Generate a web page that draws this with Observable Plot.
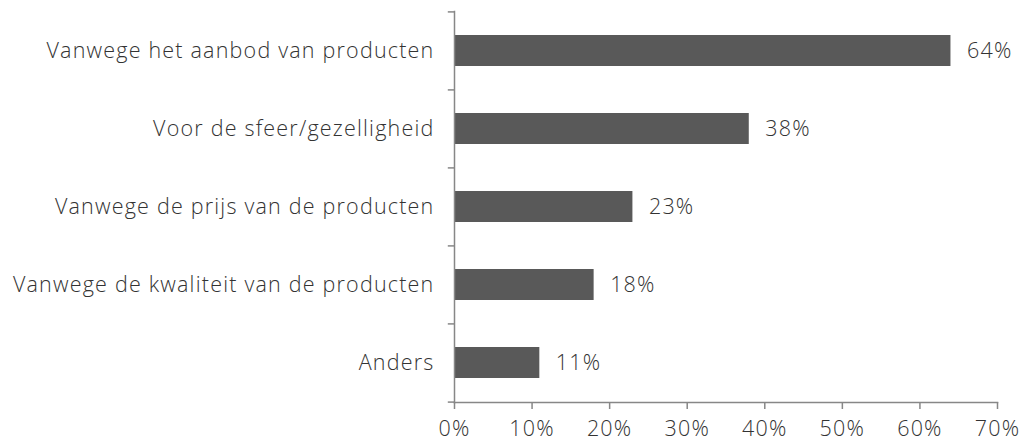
<!DOCTYPE html>
<html>
<head>
<meta charset="utf-8">
<script src="https://cdn.jsdelivr.net/npm/d3@7"></script>
<script src="https://cdn.jsdelivr.net/npm/@observablehq/plot@0.6"></script>
<style>
  html, body { margin: 0; padding: 0; background: #fff; }
</style>
</head>
<body>
<div id="chart"></div>
<script>
const categories = [
  "Vanwege het aanbod van producten",
  "Voor de sfeer/gezelligheid",
  "Vanwege de prijs van de producten",
  "Vanwege de kwaliteit van de producten",
  "Anders"
];
const values = [64, 38, 23, 18, 11];
const xTicks = [0, 10, 20, 30, 40, 50, 60, 70];

const data = categories.map((c, i) => ({cat: c, value: values[i]}));

const W = 1030, H = 441, mT = 11, mB = 39;
const pInner = 0.6, pOuter = 0.3;
const step = (H - mT - mB) / (categories.length - pInner + 2 * pOuter);
const axisColor = "#878787";
const textColor = "#333333";
const fs = 21.5;

const chart = Plot.plot({
  width: W,
  height: H,
  marginTop: mT,
  marginBottom: mB,
  marginLeft: 454,
  marginRight: 33,
  style: {fontFamily: "'Open Sans', sans-serif", fontWeight: 300, letterSpacing: "1.2px", fontSize: fs + "px", color: textColor, background: "#fff", overflow: "visible"},
  x: {domain: [0, 70]},
  y: {domain: categories, paddingInner: pInner, paddingOuter: pOuter},
  marks: [
    Plot.barX(data, {x: "value", y: "cat", fill: "#595959"}),
    Plot.text(data, {x: "value", y: "cat", text: d => d.value + "%", textAnchor: "start", dx: 16, fill: textColor, fontSize: fs}),
    Plot.axisY({tickSize: 0, tickPadding: 20, fontSize: fs, fill: textColor, label: null}),
    Plot.axisX({ticks: xTicks, tickFormat: d => d + "%", tickSize: 7, tickPadding: 11, stroke: axisColor, strokeWidth: 1.5, fontSize: fs, fill: textColor, label: null}),
    Plot.frame({anchor: "left", stroke: axisColor, strokeWidth: 1.5}),
    Plot.frame({anchor: "bottom", stroke: axisColor, strokeWidth: 1.5}),
    Plot.ruleY(categories, {y: d => d, x1: -0.8, x2: 0, dy: -step / 2, stroke: axisColor, strokeWidth: 1.5}),
    Plot.ruleY([categories[categories.length - 1]], {y: d => d, x1: -0.8, x2: 0, dy: step / 2, stroke: axisColor, strokeWidth: 1.5})
  ]
});
document.getElementById("chart").appendChild(chart);
</script>
</body>
</html>
